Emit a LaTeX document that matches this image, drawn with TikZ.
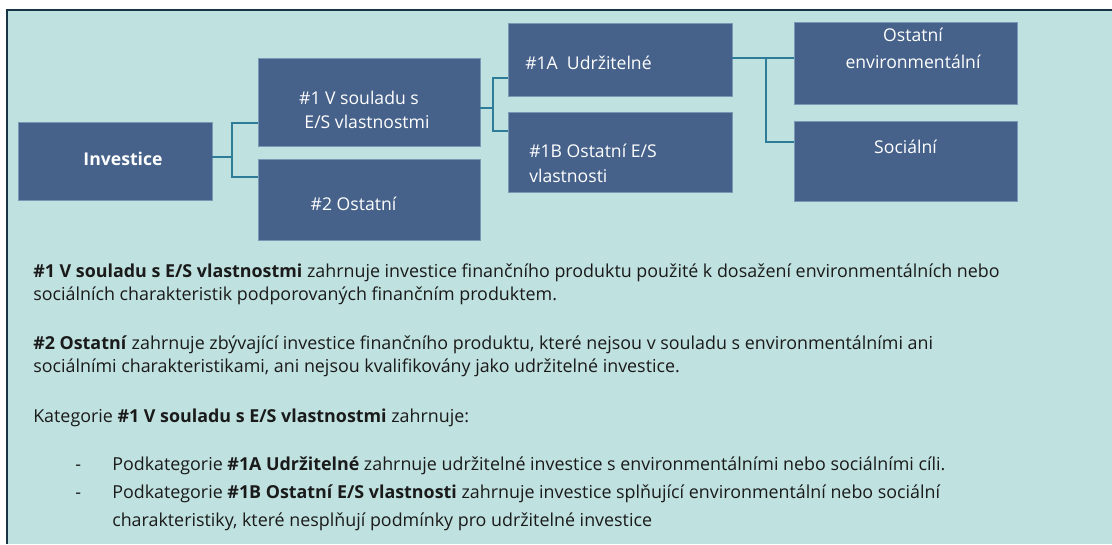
\documentclass[tikz,border=0pt]{standalone}
\usepackage{fontspec}
\setmainfont{Open Sans}
\usetikzlibrary{positioning}
\definecolor{esgteal}{HTML}{BFE1DF}
\definecolor{esgframe}{HTML}{173545}
\definecolor{esgbox}{HTML}{46628A}
\definecolor{esgedge}{HTML}{7A97B5}
\definecolor{esglink}{HTML}{2F7C98}
\definecolor{esgtext}{HTML}{1A1A1A}

\begin{document}
\begin{tikzpicture}[
    x=0.75pt, y=-0.75pt,
    every node/.style={font=\fontsize{13.4}{16}\selectfont},
    box/.style={
        rectangle,
        draw=esgedge,
        fill=esgbox,
        line width=0.6pt,
        inner sep=0pt
    },
    boxtext/.style={
        text=white,
        inner sep=0pt,
        anchor=base,
        font=\fontsize{13.2}{16}\selectfont
    },
    boxleft/.style={
        boxtext,
        anchor=base west
    },
    link/.style={
        draw=esglink,
        line width=1.5pt
    },
    bodyline/.style={
        text=esgtext,
        inner sep=0pt,
        anchor=base west
    }
]
\useasboundingbox (0,0) rectangle (1112,544);

% Panel
\fill[esgteal] (7,10) rectangle (1112,544);
\draw[esgframe, line width=1.9pt] (7,544) -- (7,10) -- (1112,10);

% Column 1: Investice
\node[box, minimum width=145.5pt, minimum height=58.5pt] (inv) at (115,161) {};
\node[boxtext, font=\fontsize{13.2}{16}\selectfont\bfseries] (invtxt) at (123,165) {Investice};

% Column 2: #1 and #2
\node[box, minimum width=166.5pt, minimum height=66pt] (one) at (369,102) {};
\node[box, minimum width=166.5pt, minimum height=60.75pt] (two) at (369,199.5) {};
\node[boxtext] (onetxt) at (359,104) {\#1 V souladu s};
\node[boxtext] (onetxtb) at (367,128) {E/S vlastnostmi};
\node[boxtext] (twotxt) at (353.5,210) {\#2 Ostatní};

% Column 3: #1A and #1B
\node[box, minimum width=168pt, minimum height=54.75pt] (oneA) at (620,59.5) {};
\node[box, minimum width=168pt, minimum height=60pt] (oneB) at (620,152) {};
\node[boxleft] (oneAtxt) at (525,69) {\#1A\ \ Udržitelné};
\node[boxleft] (oneBtxt) at (529,157) {\#1B Ostatní E/S};
\node[boxleft] (oneBtxtb) at (529,182) {vlastnosti};

% Column 4: Ostatni environmentalni and Socialni
\node[box, minimum width=167.25pt, minimum height=61.5pt] (env) at (905.5,63) {};
\node[box, minimum width=167.25pt, minimum height=60pt] (soc) at (905.5,161) {};
\node[boxtext] (envtxt) at (913,41) {Ostatní};
\node[boxtext] (envtxtb) at (913,68) {environmentální};
\node[boxtext] (soctxt) at (905.5,153) {Sociální};

% Connectors
\coordinate (jinv) at (232,157);
\draw[link] (inv.east |- jinv) -- (jinv);
\draw[link] (one.west |- 0,123) -| (jinv) |- (two.west |- 0,177);

\coordinate (jone) at (493,108);
\draw[link] (one.east |- jone) -- (jone);
\draw[link] (oneA.west |- 0,78) -| (jone) |- (oneB.west |- 0,131);

\coordinate (jA) at (766,58);
\draw[link] (oneA.east |- jA) -- (env.west |- jA);
\draw[link] (jA) |- (soc.west |- 0,142);

% Text below
\node[bodyline] (p1a) at (33,277) {\textbf{\#1 V souladu s E/S vlastnostmi} zahrnuje investice finančního produktu použité k dosažení environmentálních nebo};
\node[bodyline] (p1b) at (33,300) {sociálních charakteristik podporovaných finančním produktem.};
\node[bodyline] (p2a) at (33,349) {\textbf{\#2 Ostatní} zahrnuje zbývající investice finančního produktu, které nejsou v souladu s environmentálními ani};
\node[bodyline] (p2b) at (33,372) {sociálními charakteristikami, ani nejsou kvalifikovány jako udržitelné investice.};
\node[bodyline] (p3) at (33,422) {Kategorie \textbf{\#1 V souladu s E/S vlastnostmi} zahrnuje:};

% Bullets
\node[bodyline] (d1) at (75,470) {-};
\node[bodyline] (b1) at (112,470) {Podkategorie \textbf{\#1A Udržitelné} zahrnuje udržitelné investice s environmentálními nebo sociálními cíli.};
\node[bodyline] (d2) at (75,498) {-};
\node[bodyline] (b2a) at (112,498) {Podkategorie \textbf{\#1B Ostatní E/S vlastnosti} zahrnuje investice splňující environmentální nebo sociální};
\node[bodyline] (b2b) at (112,526) {charakteristiky, které nesplňují podmínky pro udržitelné investice};

\end{tikzpicture}
\end{document}
